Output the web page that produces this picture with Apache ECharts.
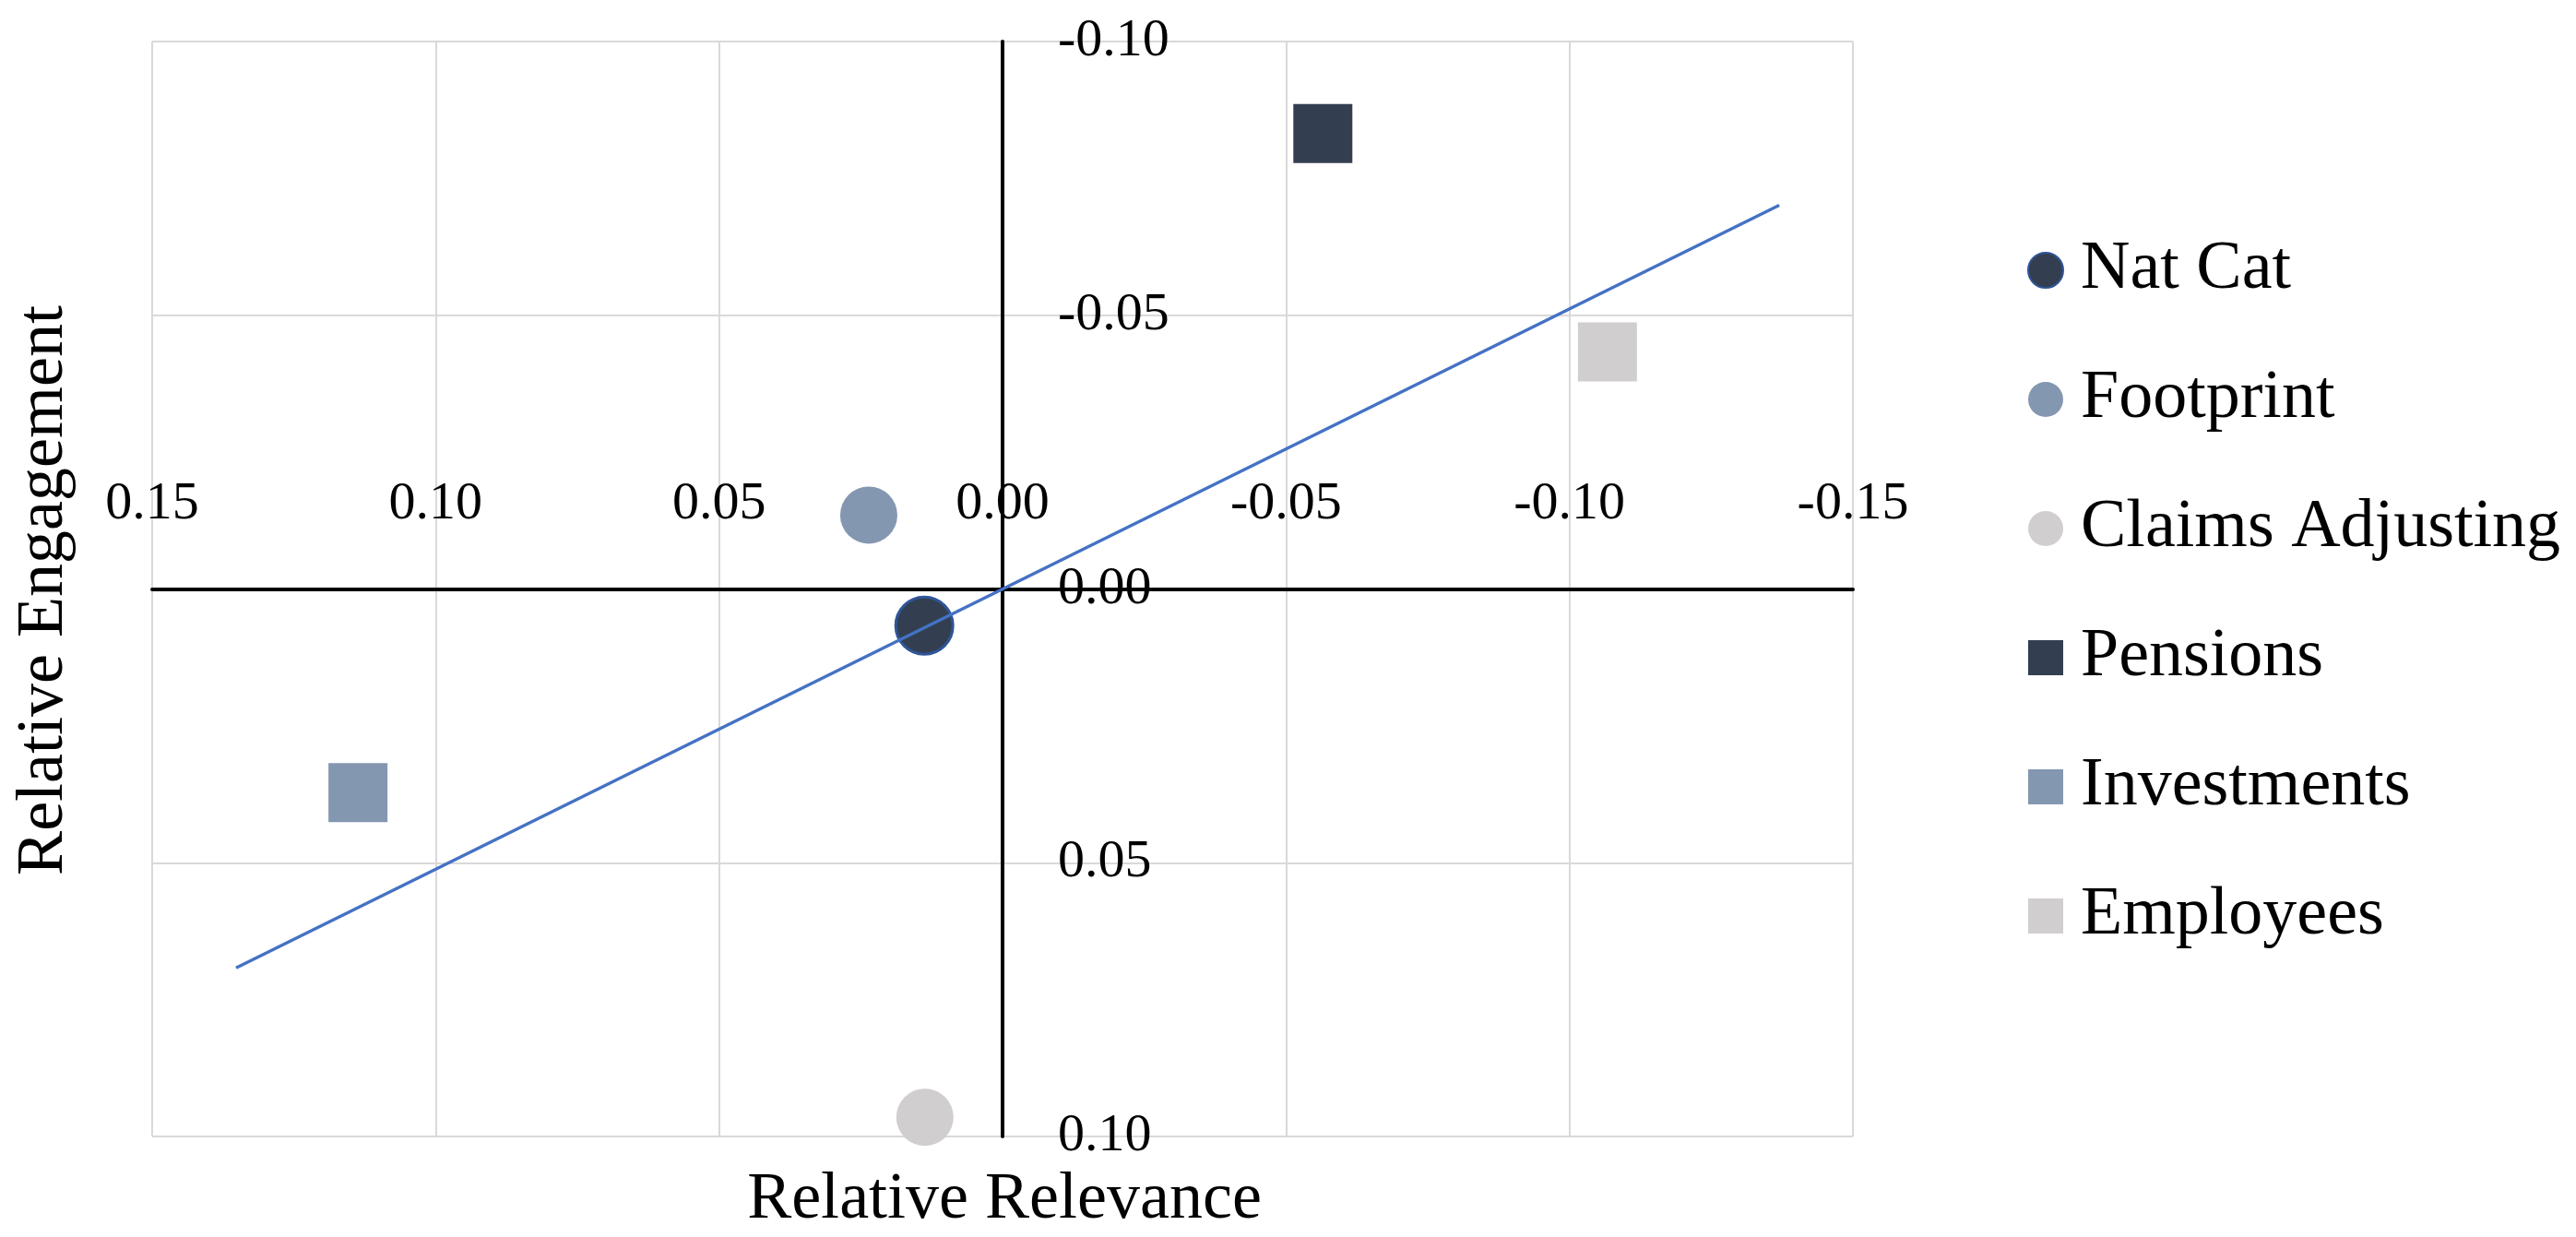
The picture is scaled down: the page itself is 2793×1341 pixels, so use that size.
<!DOCTYPE html>
<html>
<head>
<meta charset="utf-8">
<script src="https://cdn.jsdelivr.net/npm/echarts@6/dist/echarts.min.js"></script>
<style>html,body{margin:0;padding:0;background:#fff}#c{width:2793px;height:1341px}</style>
</head>
<body>
<div id="c"></div>
<script>
// Data (x = Relative Relevance, y = Relative Engagement)
const natCat = [[0.0138, 0.0067]];
const footprint = [[0.0236, -0.0135]];
const claimsAdjusting = [[0.0137, 0.0965]];
const pensions = [[-0.0565, -0.0832]];
const investments = [[0.1137, 0.0372]];
const employees = [[-0.1067, -0.0433]];
const trendLine = [[0.1352, 0.0692], [-0.1370, -0.0701]];
const xTicks = {min: -0.15, max: 0.15, interval: 0.05};
const yTicks = {min: -0.10, max: 0.10, interval: 0.05};
const seriesNames = ['Nat Cat', 'Footprint', 'Claims Adjusting', 'Pensions', 'Investments', 'Employees'];

const FONT = 'Liberation Serif';
const W = 2793, H = 1341;
const G = {left: 165, right: 784, top: 45, bottom: 109};
const plotW = W - G.left - G.right, plotH = H - G.top - G.bottom;
// pixel distance from the grid edge to the zero crossing (axes cross at 0,0)
const xZeroFromTop = plotH * (0 - yTicks.min) / (yTicks.max - yTicks.min);
const yZeroFromRight = plotW * (0 - xTicks.min) / (xTicks.max - xTicks.min);

const chart = echarts.init(document.getElementById('c'));
const dark = '#333F50', mid = '#8497B0', light = '#D0CECE';
const fmt = v => (Math.abs(v) < 1e-9 ? 0 : v).toFixed(2);

function scatter(name, data, symbol, color, size, border) {
  return {
    name: name, type: 'scatter', data: data, symbol: symbol, symbolSize: size,
    itemStyle: Object.assign({color: color, opacity: 1}, border || {}),
    z: 3
  };
}

chart.setOption({
  animation: false,
  backgroundColor: '#fff',
  grid: Object.assign({containLabel: false, outerBoundsMode: 'none'}, G),
  xAxis: {
    type: 'value', min: xTicks.min, max: xTicks.max, interval: xTicks.interval, inverse: true,
    position: 'top', offset: -xZeroFromTop,
    axisLine: {onZero: false, lineStyle: {color: '#000', width: 4}},
    axisTick: {show: false},
    axisLabel: {margin: 63, fontFamily: FONT, fontSize: 58, color: '#000', formatter: fmt},
    splitLine: {show: true, lineStyle: {color: '#D9D9D9', width: 2}}
  },
  yAxis: {
    type: 'value', min: yTicks.min, max: yTicks.max, interval: yTicks.interval, inverse: true,
    position: 'right', offset: -yZeroFromRight,
    axisLine: {onZero: false, lineStyle: {color: '#000', width: 4}},
    axisTick: {show: false},
    axisLabel: {margin: 60, fontFamily: FONT, fontSize: 58, color: '#000', formatter: fmt},
    splitLine: {show: true, lineStyle: {color: '#D9D9D9', width: 2}}
  },
  legend: {
    data: seriesNames.map((n, i) => ({name: n, icon: i < 3 ? 'circle' : 'rect'})),
    orient: 'vertical', left: 2193, top: 248,
    itemWidth: 38, itemHeight: 38, itemGap: 60,
    textStyle: {fontFamily: FONT, fontSize: 74, color: '#000', lineHeight: 80, padding: [0, 0, 0, 14]}
  },
  graphic: [
    {type: 'text', x: 1089, y: 1301, style: {text: 'Relative Relevance', font: '72px "Liberation Serif"', fill: '#000', align: 'center', verticalAlign: 'middle'}},
    {type: 'text', x: 48, y: 640, rotation: Math.PI / 2, style: {text: 'Relative Engagement', font: '72px "Liberation Serif"', fill: '#000', align: 'center', verticalAlign: 'middle'}}
  ],
  series: [
    scatter('Nat Cat', natCat, 'circle', dark, 62, {borderColor: '#2F5597', borderWidth: 3}),
    scatter('Footprint', footprint, 'circle', mid, 62),
    scatter('Claims Adjusting', claimsAdjusting, 'circle', light, 62),
    scatter('Pensions', pensions, 'rect', dark, 64),
    scatter('Investments', investments, 'rect', mid, 64),
    scatter('Employees', employees, 'rect', light, 64),
    {name: 'Trend', type: 'line', data: trendLine, showSymbol: false, symbol: 'none',
     lineStyle: {color: '#4472C4', width: 3.5}, z: 5, silent: true}
  ]
});
</script>
</body>
</html>
